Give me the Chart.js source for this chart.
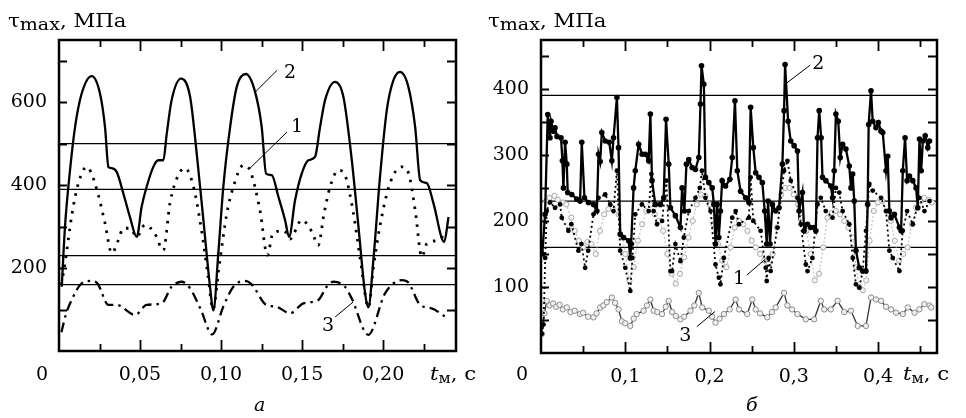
<!DOCTYPE html>
<html>
<head>
<meta charset="utf-8">
<script src="https://cdn.jsdelivr.net/npm/chart.js@4.4.1/dist/chart.umd.min.js"></script>
<style>
  body { margin: 0; background: #fff; }
  #wrap { position: relative; width: 966px; height: 418px; overflow: hidden; }
  canvas { position: absolute; top: 0; }
  .txt { position: absolute; font-family: "DejaVu Serif", serif; font-size: 19px;
         line-height: 21px; color: #000; white-space: nowrap; transform-origin: 0 0; }
  .txt sub { font-size: 17px; vertical-align: -3px; line-height: 0; }
  .it { font-style: italic; }
  .title { transform: scaleX(1.12); }
</style>
</head>
<body>
<div id="wrap">
  <canvas id="chartA" width="483" height="418" style="left:0"></canvas>
  <canvas id="chartB" width="483" height="418" style="left:483px"></canvas>

  <div class="txt title" style="left:8px;top:10px">τ<sub>max</sub>, МПа</div>
  <div class="txt" style="left:36px;top:363px">0</div>
  <div class="txt title" style="left:430px;top:363px"><span class="it">t</span><sub style="font-size:14px">м</sub>, с</div>
  <div class="txt it" style="left:254px;top:394px">а</div>

  <div class="txt title" style="left:488px;top:10px">τ<sub>max</sub>, МПа</div>
  <div class="txt" style="left:516px;top:363px">0</div>
  <div class="txt title" style="left:903px;top:363px"><span class="it">t</span><sub style="font-size:14px">м</sub>, с</div>
  <div class="txt it" style="left:746px;top:394px">б</div>
</div>
<script>
// ---------- panel а : t (s), tau_max (MPa) ----------
const curve2A = [
    [0.0017, 155], [0.0037, 300], [0.0068, 436], [0.0099, 540], [0.014, 621], [0.0202, 663],
    [0.0253, 621], [0.0284, 540], [0.0305, 444], [0.0325, 441], [0.0356, 432], [0.0397, 380],
    [0.0438, 323], [0.048, 275], [0.051, 348], [0.0541, 396], [0.0582, 444], [0.0613, 460],
    [0.0644, 460], [0.0665, 524], [0.0695, 605], [0.0753, 657], [0.0809, 613], [0.085, 476],
    [0.0891, 316], [0.0932, 155], [0.0953, 98], [0.0983, 235], [0.1014, 396], [0.1056, 540],
    [0.1097, 637], [0.1154, 668], [0.121, 625], [0.1251, 540], [0.1278, 428], [0.1313, 424],
    [0.1354, 372], [0.1395, 316], [0.142, 275], [0.1457, 364], [0.1498, 428], [0.1539, 460],
    [0.158, 468], [0.1611, 540], [0.1642, 605], [0.1704, 649], [0.1755, 613], [0.1807, 460],
    [0.1848, 300], [0.1889, 139], [0.1909, 105], [0.194, 219], [0.1981, 420], [0.2023, 581],
    [0.2064, 653], [0.2105, 673], [0.2156, 637], [0.2198, 540], [0.2229, 412], [0.227, 405],
    [0.2311, 356], [0.2377, 263], [0.2404, 323],
];
const curve1A = [
    [0.0015, 160], [0.004, 220], [0.008, 330], [0.012, 405], [0.0171, 444], [0.0196, 432],
    [0.024, 380], [0.0284, 308], [0.0325, 236], [0.0366, 267], [0.0397, 296], [0.044, 296],
    [0.048, 275], [0.053, 304], [0.059, 284], [0.0644, 243], [0.0685, 357], [0.0736, 424],
    [0.0778, 441], [0.083, 396], [0.088, 290], [0.092, 180], [0.095, 100], [0.099, 210],
    [0.1035, 330], [0.1076, 396], [0.1138, 448], [0.1178, 436], [0.124, 340], [0.1286, 231],
    [0.132, 284], [0.139, 290], [0.1425, 270], [0.1498, 316], [0.156, 288], [0.16, 255],
    [0.1635, 330], [0.1673, 396], [0.1724, 436], [0.1765, 424], [0.1817, 332], [0.186, 220],
    [0.191, 105], [0.194, 200], [0.198, 300], [0.2043, 405], [0.2115, 444], [0.2156, 430],
    [0.2198, 340], [0.2239, 227], [0.227, 259], [0.234, 267], [0.2377, 279],
];
const curve3A = [
    [0.0015, 45], [0.004, 85], [0.0078, 123], [0.014, 163], [0.0202, 169], [0.0238, 163],
    [0.0305, 111], [0.0356, 111], [0.047, 87], [0.054, 111], [0.0634, 115], [0.0695, 155],
    [0.0757, 167], [0.0809, 151], [0.0875, 100], [0.0945, 40], [0.1014, 107], [0.1076, 155],
    [0.1148, 169], [0.119, 160], [0.128, 111], [0.134, 107], [0.1426, 91], [0.1508, 115],
    [0.16, 123], [0.1652, 155], [0.1693, 167], [0.1765, 155], [0.1806, 127], [0.1909, 39],
    [0.2012, 139], [0.2115, 171], [0.2156, 165], [0.2229, 111], [0.23, 103], [0.2383, 83],
];
const refLinesA = [500, 390, 230, 160];
const xLabelsA = [0.05, 0.10, 0.15, 0.20];
const xMinorA = [0.025, 0.075, 0.125, 0.175, 0.225];
const yTicksA = [100, 200, 300, 400, 500, 600, 700];
const yLabelsA = [200, 400, 600];

// ---------- panel б ----------
const curve2B = [
    [0.0016, 150], [0.0048, 210], [0.008, 361], [0.0107, 326], [0.0119, 351], [0.0147, 336],
    [0.0167, 341], [0.019, 328], [0.0238, 326], [0.0254, 291], [0.0266, 250], [0.0286, 319],
    [0.0306, 286], [0.0317, 243], [0.0365, 240], [0.0425, 233], [0.0464, 230], [0.0484, 319],
    [0.0516, 235], [0.0563, 228], [0.0623, 225], [0.0663, 215], [0.0683, 301], [0.0702, 290],
    [0.0722, 334], [0.0762, 321], [0.081, 319], [0.0841, 291], [0.0861, 326], [0.0901, 387],
    [0.092, 311], [0.094, 180], [0.098, 175], [0.104, 170], [0.106, 144], [0.107, 165],
    [0.1099, 250], [0.1119, 276], [0.1159, 316], [0.12, 301], [0.1238, 301], [0.1278, 291],
    [0.1298, 362], [0.1318, 261], [0.1357, 225], [0.1417, 225], [0.1456, 235], [0.1484, 354],
    [0.1516, 286], [0.1536, 220], [0.1595, 208], [0.1655, 190], [0.1675, 250], [0.1702, 215],
    [0.1726, 286], [0.1754, 293], [0.1794, 281], [0.1833, 278], [0.1873, 296], [0.1893, 377],
    [0.1905, 435], [0.1933, 407], [0.1952, 266], [0.1992, 258], [0.2032, 250], [0.2052, 225],
    [0.2071, 165], [0.209, 225], [0.2111, 175], [0.213, 215], [0.215, 261], [0.219, 253],
    [0.2242, 263], [0.227, 296], [0.2302, 382], [0.233, 276], [0.2369, 245], [0.2429, 235],
    [0.2468, 228], [0.2488, 372], [0.252, 311], [0.2548, 273], [0.2587, 266], [0.2627, 258],
    [0.2655, 215], [0.2679, 165], [0.2695, 230], [0.2718, 165], [0.2746, 225], [0.2786, 215],
    [0.2825, 220], [0.2865, 286], [0.2885, 367], [0.2897, 437], [0.2933, 351], [0.2964, 321],
    [0.3004, 314], [0.3044, 306], [0.3063, 215], [0.3103, 243], [0.3123, 185], [0.3163, 195],
    [0.3202, 190], [0.3242, 190], [0.3262, 185], [0.3282, 326], [0.3302, 367], [0.3325, 326],
    [0.3341, 266], [0.3381, 261], [0.344, 253], [0.346, 235], [0.348, 276], [0.35, 362],
    [0.3528, 351], [0.3552, 296], [0.358, 316], [0.3619, 309], [0.3659, 283], [0.3679, 250],
    [0.3699, 271], [0.3718, 230], [0.3738, 155], [0.3778, 129], [0.3818, 124], [0.3857, 124],
    [0.3877, 225], [0.3889, 346], [0.3917, 397], [0.3937, 351], [0.3976, 341], [0.4004, 349],
    [0.4036, 336], [0.4056, 334], [0.4095, 276], [0.4115, 298], [0.4135, 215], [0.4155, 205],
    [0.4194, 210], [0.4254, 190], [0.4274, 185], [0.4294, 276], [0.4321, 326], [0.4345, 261],
    [0.4373, 268], [0.4413, 261], [0.4452, 250], [0.4472, 220], [0.4492, 324], [0.4512, 276],
    [0.4532, 321], [0.456, 329], [0.4591, 311], [0.4611, 321],
];
const curve1B = [
    [0.001, 29], [0.003, 43], [0.005, 144], [0.0068, 215], [0.0107, 228], [0.0167, 220],
    [0.0226, 225], [0.0246, 205], [0.0325, 185], [0.036, 195], [0.0444, 155], [0.048, 165],
    [0.0524, 129], [0.056, 155], [0.0623, 210], [0.0683, 235], [0.0762, 240], [0.0821, 225],
    [0.086, 215], [0.0901, 276], [0.094, 155], [0.1, 129], [0.106, 94], [0.1085, 144],
    [0.1119, 210], [0.1198, 225], [0.1278, 215], [0.131, 271], [0.1337, 215], [0.1377, 195],
    [0.1437, 200], [0.1488, 261], [0.1536, 124], [0.1556, 124], [0.1595, 165], [0.1655, 139],
    [0.1695, 175], [0.1754, 215], [0.1833, 235], [0.1885, 250], [0.191, 276], [0.1952, 235],
    [0.2012, 215], [0.2071, 134], [0.2111, 114], [0.213, 104], [0.217, 144], [0.227, 205],
    [0.231, 215], [0.235, 195], [0.2468, 205], [0.2488, 266], [0.252, 200], [0.2607, 185],
    [0.2667, 129], [0.2679, 109], [0.2702, 144], [0.2726, 124], [0.2806, 190], [0.2885, 276],
    [0.2925, 291], [0.2964, 261], [0.3044, 235], [0.3083, 195], [0.3143, 134], [0.3163, 124],
    [0.3222, 144], [0.3282, 225], [0.3321, 235], [0.338, 215], [0.346, 205], [0.35, 250],
    [0.354, 243], [0.358, 215], [0.3659, 195], [0.37, 144], [0.3738, 104], [0.3778, 99],
    [0.3818, 124], [0.3857, 185], [0.3897, 256], [0.3937, 246], [0.4036, 235], [0.4095, 215],
    [0.4135, 155], [0.4175, 144], [0.4254, 124], [0.4294, 185], [0.4345, 215], [0.4413, 195],
    [0.4492, 235], [0.4551, 215], [0.4611, 230],
];
const grayB = [
    [0.006, 230], [0.01, 235], [0.016, 238], [0.02, 232], [0.026, 228], [0.03, 225],
    [0.036, 205], [0.04, 185], [0.045, 170], [0.05, 160], [0.055, 168], [0.06, 165],
    [0.065, 150], [0.07, 185], [0.075, 210], [0.08, 218], [0.085, 220], [0.092, 210],
    [0.097, 175], [0.1, 150], [0.105, 110], [0.11, 130], [0.115, 170], [0.12, 195],
    [0.125, 215], [0.13, 225], [0.135, 210], [0.14, 200], [0.145, 185], [0.15, 150],
    [0.155, 120], [0.16, 105], [0.165, 120], [0.17, 145], [0.175, 175], [0.18, 200],
    [0.185, 225], [0.19, 240], [0.195, 238], [0.2, 225], [0.205, 195], [0.21, 165],
    [0.215, 140], [0.22, 130], [0.225, 160], [0.23, 190], [0.235, 200], [0.24, 195],
    [0.245, 185], [0.25, 170], [0.255, 160], [0.26, 150], [0.265, 140], [0.27, 135],
    [0.275, 150], [0.28, 190], [0.285, 240], [0.29, 250], [0.295, 250], [0.3, 240],
    [0.305, 225], [0.31, 205], [0.315, 185], [0.32, 150], [0.325, 110], [0.33, 120],
    [0.335, 160], [0.34, 205], [0.345, 212], [0.35, 215], [0.355, 210], [0.36, 200],
    [0.365, 190], [0.37, 175], [0.374, 130], [0.378, 100], [0.382, 95], [0.386, 110],
    [0.39, 170], [0.395, 215], [0.4, 228], [0.405, 230], [0.41, 215], [0.415, 200],
    [0.42, 170], [0.425, 140], [0.43, 150], [0.435, 160], [0.44, 195], [0.445, 220],
    [0.45, 230], [0.455, 235], [0.46, 232], [0.464, 228],
];
const curve3B = [
    [0.001, 29], [0.004, 60], [0.0068, 79], [0.01, 72], [0.0143, 75], [0.018, 70], [0.022, 73],
    [0.026, 66], [0.0306, 69], [0.035, 62], [0.04, 64], [0.0464, 59], [0.05, 61], [0.056, 55],
    [0.0623, 54], [0.066, 60], [0.0702, 69], [0.074, 72], [0.078, 77], [0.0841, 84],
    [0.088, 76], [0.092, 66], [0.096, 48], [0.1, 45], [0.106, 41], [0.11, 52], [0.1135, 59],
    [0.1218, 64], [0.1258, 72], [0.1298, 81], [0.1337, 64], [0.138, 62], [0.1437, 59],
    [0.148, 70], [0.1516, 79], [0.1556, 62], [0.16, 56], [0.1655, 51], [0.17, 55],
    [0.1774, 64], [0.182, 72], [0.1873, 91], [0.1913, 69], [0.1992, 64], [0.203, 55],
    [0.2071, 46], [0.212, 52], [0.2171, 59], [0.224, 66], [0.231, 81], [0.235, 66],
    [0.2448, 59], [0.2508, 81], [0.2548, 66], [0.26, 60], [0.2686, 54], [0.274, 62],
    [0.2785, 69], [0.2885, 91], [0.2925, 72], [0.298, 66], [0.3044, 59], [0.3143, 51],
    [0.3242, 51], [0.3321, 79], [0.3361, 66], [0.344, 66], [0.352, 79], [0.3599, 62],
    [0.3679, 64], [0.3758, 41], [0.3857, 41], [0.3917, 84], [0.3976, 81], [0.4036, 79],
    [0.4095, 70], [0.4155, 66], [0.4214, 61], [0.4294, 59], [0.4353, 69], [0.4433, 61],
    [0.449, 66], [0.455, 74], [0.4611, 72], [0.4631, 69],
];
const refLinesB = [390, 230, 160];
const xLabelsB = [0.1, 0.2, 0.3, 0.4];
const xMinorB = [0.05, 0.15, 0.25, 0.35, 0.45];
const yTicksB = [50, 100, 150, 200, 250, 300, 350, 400, 450];
const yLabelsB = [100, 200, 300, 400];

// curve number labels with leader lines, in data units: [text, textAt, lineFrom, lineTo]
const notesA = [
    ['2', [0.1426, 672], [0.121, 624], [0.1346, 677]],
    ['1', [0.1469, 542], [0.1179, 441], [0.1407, 528]],
    ['3', [0.166, 63], [0.1704, 82], [0.1815, 118]],
];
const notesB = [
    ['2', [0.329, 439], [0.2918, 409], [0.3195, 436]],
    ['1', [0.2352, 114], [0.2443, 118], [0.2661, 142]],
    ['3', [0.1714, 27], [0.185, 40], [0.2067, 63]],
];

const FONT = '"DejaVu Serif", serif';

function toXY(pairs) {
    return pairs.map(p => ({ x: p[0], y: p[1] }));
}

function refLine(v, xMax) {
    return {
        data: [{ x: 0, y: v }, { x: xMax, y: v }],
        borderColor: '#000', borderWidth: 1.2, pointRadius: 0,
    };
}

// frame, inward ticks on all four sides, curve labels
const frameTicks = {
    id: 'frameTicks',
    afterDatasetsDraw(chart, args, opts) {
        const { ctx, chartArea: a, scales: { x, y } } = chart;
        ctx.save();
        ctx.strokeStyle = '#000';
        ctx.lineWidth = 1.8;
        ctx.beginPath();
        const xTick = (v, len) => {
            const px = Math.round(x.getPixelForValue(v)) + 0.5;
            ctx.moveTo(px, a.bottom); ctx.lineTo(px, a.bottom - len);
            ctx.moveTo(px, a.top); ctx.lineTo(px, a.top + len);
        };
        for (const v of opts.xMajor) xTick(v, 11);
        for (const v of opts.xMinor) xTick(v, 7);
        for (const v of opts.yTicks) {
            const py = Math.round(y.getPixelForValue(v)) + 0.5;
            ctx.moveTo(a.left, py); ctx.lineTo(a.left + 8, py);
            ctx.moveTo(a.right, py); ctx.lineTo(a.right - 9, py);
        }
        ctx.stroke();
        ctx.lineWidth = 2.5;
        ctx.strokeRect(a.left, a.top, a.right - a.left, a.bottom - a.top);

        ctx.lineWidth = 1;
        ctx.fillStyle = '#000';
        ctx.font = '19px ' + FONT;
        ctx.textAlign = 'center';
        ctx.textBaseline = 'middle';
        for (const [txt, at, from, to] of opts.notes) {
            ctx.beginPath();
            ctx.moveTo(x.getPixelForValue(from[0]), y.getPixelForValue(from[1]));
            ctx.lineTo(x.getPixelForValue(to[0]), y.getPixelForValue(to[1]));
            ctx.stroke();
            ctx.fillText(txt, x.getPixelForValue(at[0]), y.getPixelForValue(at[1]) + 1);
        }
        ctx.restore();
    }
};

function makeChart(id, cfg) {
    return new Chart(document.getElementById(id), {
        type: 'line',
        data: { datasets: cfg.datasets },
        options: {
            responsive: false,
            animation: false,
            devicePixelRatio: 1,
            parsing: false,
            layout: { padding: { top: 40, right: cfg.padRight, left: 0, bottom: 0 } },
            elements: { point: { radius: 0 }, line: { tension: 0 } },
            plugins: {
                legend: { display: false },
                tooltip: { enabled: false },
                frameTicks: {
                    xMajor: cfg.xLabels, xMinor: cfg.xMinor, yTicks: cfg.yTicks, notes: cfg.notes,
                },
            },
            scales: {
                x: {
                    type: 'linear', min: 0, max: cfg.xMax,
                    grid: { display: false, drawTicks: false },
                    border: { display: false },
                    ticks: {
                        color: '#000', padding: 13, maxRotation: 0, autoSkip: false,
                        font: { family: FONT, size: 19 },
                        callback: v => v.toFixed(cfg.digits).replace('.', ','),
                    },
                    afterBuildTicks: s => { s.ticks = cfg.xLabels.map(v => ({ value: v })); },
                    afterFit: s => { s.height = 418 - cfg.bottom; },
                },
                y: {
                    type: 'linear', min: 0, max: cfg.yMax,
                    grid: { display: false, drawTicks: false },
                    border: { display: false },
                    ticks: {
                        color: '#000', padding: 12,
                        font: { family: FONT, size: 19 },
                    },
                    afterBuildTicks: s => { s.ticks = cfg.yLabels.map(v => ({ value: v })); },
                    afterFit: s => { s.width = cfg.left; },
                },
            },
        },
        plugins: [frameTicks],
    });
}

makeChart('chartA', {
    xMax: 0.245, yMax: 750, digits: 2, left: 59, bottom: 351, padRight: 27,
    xLabels: xLabelsA, xMinor: xMinorA, yTicks: yTicksA, yLabels: yLabelsA, notes: notesA,
    datasets: [
        { data: toXY(curve2A), borderColor: '#000', borderWidth: 2.3, cubicInterpolationMode: 'monotone' },
        { data: toXY(curve1A), borderColor: '#000', borderWidth: 2.8, borderDash: [2.5, 6.5],
          cubicInterpolationMode: 'monotone' },
        { data: toXY(curve3A), borderColor: '#000', borderWidth: 2.3, borderDash: [10, 5, 2.5, 5],
          cubicInterpolationMode: 'monotone' },
        ...refLinesA.map(v => refLine(v, 0.245)),
    ],
});

makeChart('chartB', {
    xMax: 0.47, yMax: 474, digits: 1, left: 58, bottom: 353, padRight: 29,
    xLabels: xLabelsB, xMinor: xMinorB, yTicks: yTicksB, yLabels: yLabelsB, notes: notesB,
    datasets: [
        { data: toXY(curve2B), borderColor: '#000', borderWidth: 2.3,
          pointRadius: 2.8, pointBackgroundColor: '#000', pointBorderWidth: 0 },
        { data: toXY(curve1B), borderColor: '#000', borderWidth: 1.8, borderDash: [2, 3],
          pointRadius: 2.4, pointBackgroundColor: '#000', pointBorderWidth: 0 },
        { data: toXY(grayB), borderColor: '#c4c4c4', borderWidth: 1.2, borderDash: [2, 2],
          pointRadius: 2.6, pointBackgroundColor: '#f6f6f6', pointBorderColor: '#aaaaaa', pointBorderWidth: 1 },
        { data: toXY(curve3B), borderColor: '#333', borderWidth: 1.3,
          pointRadius: 2.7, pointBackgroundColor: '#f0f0f0', pointBorderColor: '#8c8c8c', pointBorderWidth: 1 },
        ...refLinesB.map(v => refLine(v, 0.47)),
    ],
});
</script>
</body>
</html>
